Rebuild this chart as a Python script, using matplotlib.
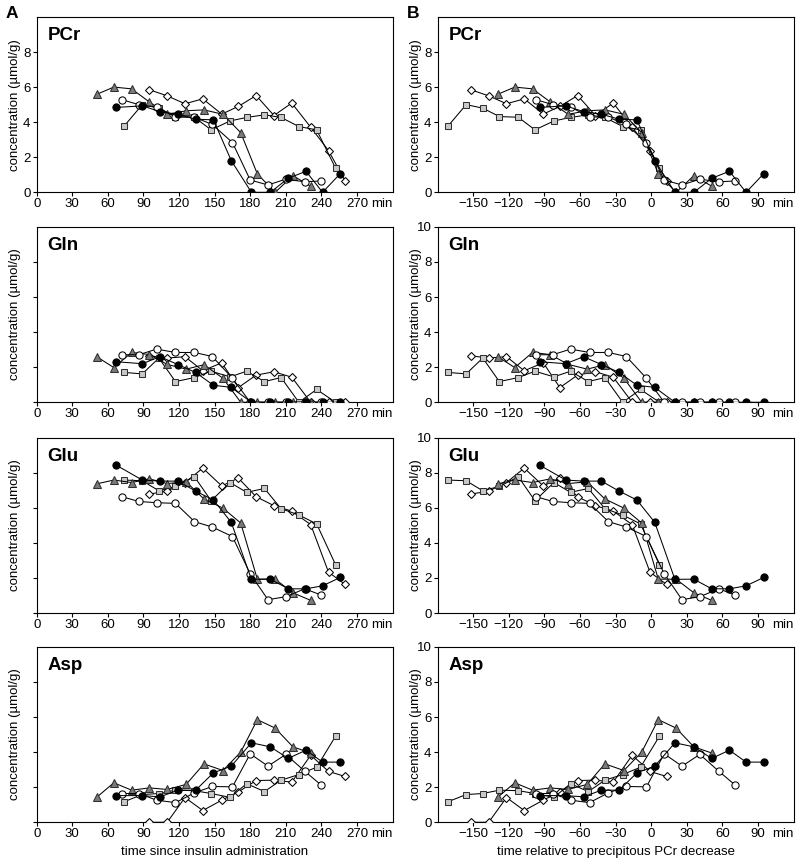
import matplotlib
matplotlib.use("Agg")
import matplotlib.pyplot as plt
import numpy as np

plt.rcParams['font.family'] = ['Liberation Sans', 'DejaVu Sans']
plt.rcParams['font.size'] = 9

# ---- sampling times (min since insulin administration) per subject ----
t_black = [67, 89, 104, 119, 134, 149, 164, 181, 197, 212, 227, 241, 256]
t_open = [72, 86, 101, 117, 133, 148, 165, 180, 195, 210, 226, 240]
t_tri = [51, 65, 80, 95, 110, 126, 141, 157, 172, 186, 201, 216, 231]
t_sq = [74, 89, 103, 117, 133, 147, 163, 177, 192, 206, 221, 236, 252]
t_dia = [95, 110, 125, 140, 156, 170, 185, 200, 215, 231, 246, 260]

# time of precipitous PCr decrease per subject (min)
onset_black = 161
onset_open = 169
onset_tri = 180
onset_sq = 245
onset_dia = 247

# ---- PCr ----
pcr_black = [4.84, 4.93, 4.6, 4.45, 4.17, 4.13, 1.81, 0, 0, 0.8, 1.2, 0, 1.07]
pcr_open = [5.28, 5.0, 4.86, 4.3, 4.28, 3.87, 2.84, 0.7, 0.42, 0.75, 0.6, 0.65]
pcr_tri = [5.6, 6.0, 5.9, 5.15, 4.45, 4.65, 4.7, 4.45, 3.4, 1.05, 0, 0.95, 0.35]
pcr_sq = [3.8, 5.0, 4.8, 4.32, 4.28, 3.56, 4.07, 4.27, 4.42, 4.27, 3.75, 3.56, 1.37]
pcr_dia = [5.85, 5.5, 5.05, 5.33, 4.46, 4.9, 5.52, 4.38, 5.09, 3.71, 2.38, 0.65]

# ---- Gln ----
gln_black = [2.31, 2.2, 2.6, 2.15, 1.7, 0.97, 0.85, 0, 0, 0, 0, 0, 0]
gln_open = [2.71, 2.71, 3.03, 2.84, 2.84, 2.61, 1.37, 0, 0, 0, 0, 0]
gln_tri = [2.58, 1.98, 2.84, 2.72, 2.16, 1.89, 2.14, 1.37, 0, 0, 0, 0, 0]
gln_sq = [1.7, 1.62, 2.52, 1.18, 1.41, 1.77, 1.45, 1.77, 1.18, 1.41, 0, 0.73, 0]
gln_dia = [2.65, 2.52, 2.6, 1.8, 2.25, 0.84, 1.55, 1.74, 1.43, 0, 0, 0]

# ---- Glu ----
glu_black = [8.43, 7.58, 7.52, 7.52, 6.95, 6.44, 5.17, 1.92, 1.93, 1.38, 1.38, 1.55, 2.03]
glu_open = [6.63, 6.36, 6.29, 6.25, 5.21, 4.9, 4.36, 2.23, 0.76, 0.93, 1.38, 1.02]
glu_tri = [7.37, 7.58, 7.44, 7.65, 7.38, 7.48, 6.5, 5.98, 5.13, 1.93, 1.93, 1.15, 0.72]
glu_sq = [7.58, 7.54, 6.97, 7.22, 7.77, 6.4, 7.44, 6.88, 7.1, 5.95, 5.59, 5.08, 2.75]
glu_dia = [6.78, 6.95, 7.44, 8.26, 7.25, 7.69, 6.63, 6.12, 5.81, 5.04, 2.33, 1.63]

# ---- Asp ----
asp_black = [1.52, 1.52, 1.45, 1.83, 1.83, 2.82, 3.2, 4.53, 4.3, 3.64, 4.11, 3.43, 3.43]
asp_open = [1.64, 1.64, 1.26, 1.12, 1.68, 2.04, 2.02, 3.9, 3.2, 3.87, 2.91, 2.11]
asp_tri = [1.45, 2.25, 1.83, 1.96, 1.87, 2.16, 3.33, 2.95, 4.0, 5.85, 5.37, 4.3, 3.95]
asp_sq = [1.18, 1.58, 1.64, 1.83, 1.8, 1.64, 1.42, 2.2, 1.75, 2.4, 2.72, 3.14, 4.91]
asp_dia = [0, 0, 1.41, 0.67, 1.26, 1.73, 2.38, 2.4, 2.29, 3.82, 2.9, 2.61]

metabolites = ["PCr", "Gln", "Glu", "Asp"]
data = {
    "PCr": [pcr_dia, pcr_sq, pcr_tri, pcr_open, pcr_black],
    "Gln": [gln_dia, gln_sq, gln_tri, gln_open, gln_black],
    "Glu": [glu_dia, glu_sq, glu_tri, glu_open, glu_black],
    "Asp": [asp_dia, asp_sq, asp_tri, asp_open, asp_black],
}
times = [t_dia, t_sq, t_tri, t_open, t_black]
onsets = [onset_dia, onset_sq, onset_tri, onset_open, onset_black]
styles = [
    dict(marker='D', ms=3.6, mfc='white', mec='black'),
    dict(marker='s', ms=5.0, mfc='#c8c8c8', mec='#303030'),
    dict(marker='^', ms=5.8, mfc='#7a7a7a', mec='#303030'),
    dict(marker='o', ms=5.2, mfc='white', mec='black'),
    dict(marker='o', ms=5.2, mfc='black', mec='black'),
]

fig = plt.figure(figsize=(8, 8.64), dpi=100)
bottoms = [0.7774, 0.5344, 0.2905, 0.0483]
h = 0.203
lefts = [0.0459, 0.5471]
w = 0.4448

for r, met in enumerate(metabolites):
    for c in range(2):
        ax = fig.add_axes([lefts[c], bottoms[r], w, h])
        for tt, vals, on, st in zip(times, data[met], onsets, styles):
            x = np.array(tt, dtype=float)
            if c == 1:
                x = x - on
            ax.plot(x, vals, color='black', lw=0.75, mew=0.75, zorder=3, **st)
        ax.set_ylim(0, 10)
        if c == 0:
            ax.set_xlim(0, 300)
            ax.set_xticks(np.arange(0, 271, 30))
        else:
            ax.set_xlim(-180, 120)
            ax.set_xticks(np.arange(-150, 91, 30))
        if met == "PCr":
            ax.set_yticks([0, 2, 4, 6, 8])
        else:
            ax.set_yticks([0, 2, 4, 6, 8, 10] if c == 1 else [0, 2, 4, 6, 8])
        if c == 0 and r > 0:
            ax.set_yticklabels([])
        ax.tick_params(direction='out', length=3.0, width=0.8, labelsize=9.5, pad=1.2)
        ax.tick_params(axis='y', pad=1.5)
        for s in ax.spines.values():
            s.set_linewidth(0.8)
        ax.set_ylabel("concentration (µmol/g)", fontsize=9.5)
        ax.yaxis.set_label_coords(-0.045, 0.5)
        ax.text(0.03, 0.895, met, transform=ax.transAxes, fontsize=13.5,
                fontweight='bold', ha='left', va='center')
        ax.annotate('min', xy=(0.971, 0), xycoords='axes fraction',
                    xytext=(0, -4.2), textcoords='offset points',
                    ha='center', va='top', fontsize=9.5)
        if r == 3:
            ax.set_xlabel("time since insulin administration" if c == 0
                          else "time relative to precipitous PCr decrease",
                          fontsize=9.5, labelpad=4)

fig.text(0.0075, 0.9846, "A", fontsize=12.5, fontweight='bold', ha='left', va='center')
fig.text(0.509, 0.9846, "B", fontsize=12.5, fontweight='bold', ha='left', va='center')

fig.savefig("out.png", dpi=100)
